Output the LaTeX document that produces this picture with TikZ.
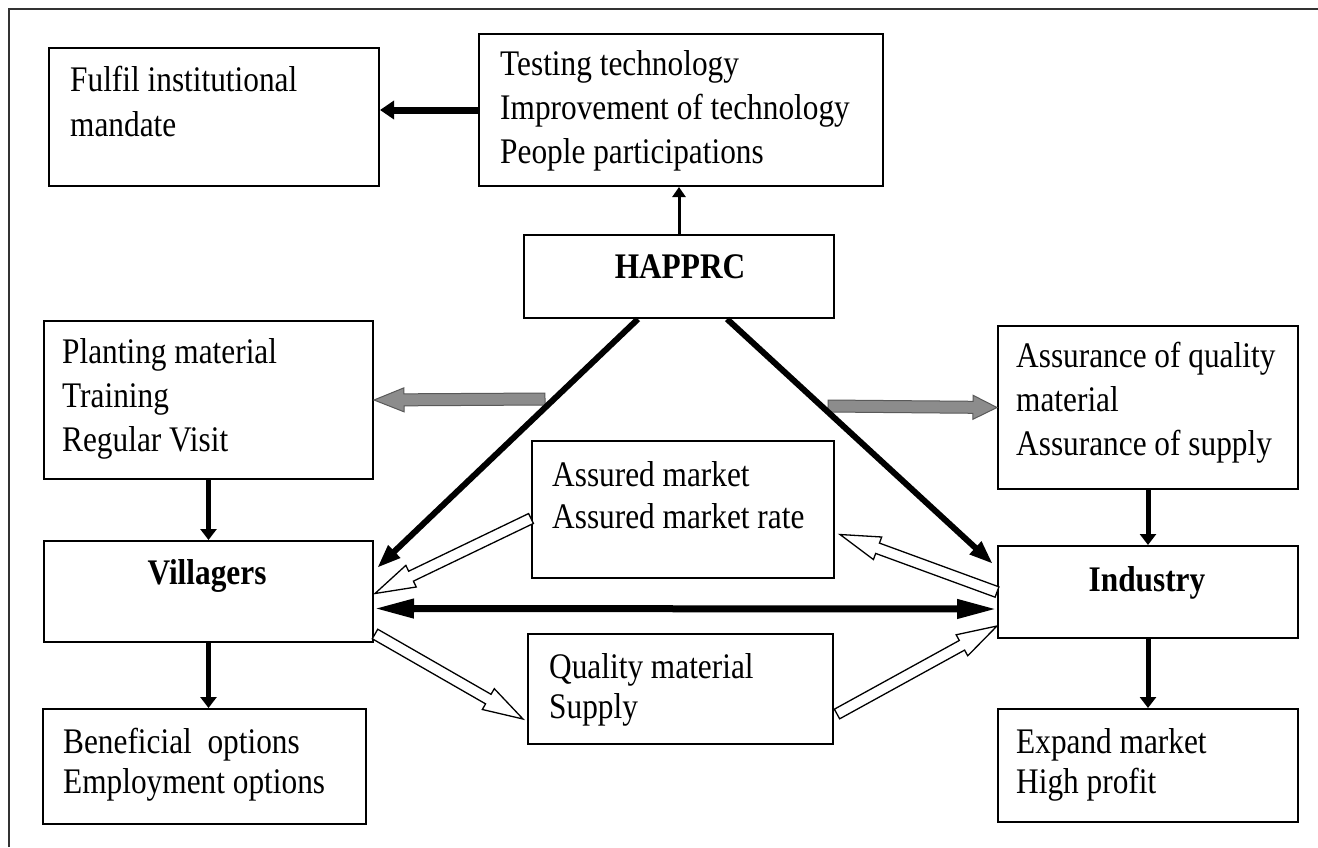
\documentclass[tikz,border=0pt]{standalone}
\usepackage{fontspec}
\setmainfont{Liberation Serif}[FakeStretch=0.87]
\usetikzlibrary{arrows.meta,calc}
\tikzset{
  box/.style={draw=black, line width=2pt, inner sep=0pt, anchor=north west, fill=white},
  txt/.style={inner sep=0pt, anchor=base west, align=left},
  btxt/.style={inner sep=0pt, anchor=base, font=\fontsize{36}{44}\selectfont\bfseries},
  vconn/.style={line width=5pt, -{Triangle[length=11pt,width=16pt]}},
  thinconn/.style={line width=3pt, -{Triangle[length=10pt,width=13pt]}},
  diagconn/.style={line width=6pt, -{Triangle[length=24pt,width=16pt]}},
  hconn/.style={line width=7pt, -{Triangle[length=14pt,width=18pt]}},
  dblconn/.style={line width=7pt, {Triangle[length=40pt,width=18pt]}-{Triangle[length=40pt,width=18pt]}},
  hollow/.style={fill=white, draw=black, line width=1.3pt, line join=miter},
  grayarr/.style={fill=black!45, draw=black!65, line width=1pt},
  frame/.style={draw=black!80, line width=2.5pt}
}
% block arrow: from, to, half shaft width, half head width, head length, style
\newcommand\blockarrow[6]{%
  \coordinate (bah) at ($(#2)!#5!(#1)$);
  \path[#6] ($(#1)!#3!90:(#2)$) -- ($(bah)!#3!90:(#2)$) -- ($(bah)!#4!90:(#2)$)
    -- (#2) -- ($(bah)!#4!-90:(#2)$) -- ($(bah)!#3!-90:(#2)$) -- ($(#1)!#3!-90:(#2)$) -- cycle;
}
\begin{document}
\begin{tikzpicture}[x=1pt, y=-1pt]
\useasboundingbox (0,0) rectangle (1318,847);
\fill[white] (0,0) rectangle (1318,847);
\draw[frame] (9,847) -- (9,9) -- (1318,9);

% boxes
\node[box, minimum width=330pt, minimum height=138pt] (fulfil) at (48,47) {};
\node[box, minimum width=404pt, minimum height=152pt] (test) at (478,33) {};
\node[box, minimum width=310pt, minimum height=83pt] (happrc) at (523,234) {};
\node[box, minimum width=329pt, minimum height=158pt] (plant) at (43,320) {};
\node[box, minimum width=300pt, minimum height=163pt] (assur) at (997,325) {};
\node[box, minimum width=302pt, minimum height=137pt] (assd) at (531,440) {};
\node[box, minimum width=329pt, minimum height=101pt] (vill) at (43,540) {};
\node[box, minimum width=300pt, minimum height=92pt] (ind) at (997,545) {};
\node[box, minimum width=305pt, minimum height=110pt] (qual) at (527,633) {};
\node[box, minimum width=323pt, minimum height=115pt] (benef) at (42,708) {};
\node[box, minimum width=300pt, minimum height=113pt] (expd) at (997,708) {};

% texts
\node[txt, font=\fontsize{36}{45}\selectfont] (fulfil-t) at (70,91)
  {\begin{tabular}[t]{@{}l@{}}Fulfil institutional\\mandate\end{tabular}};
\node[txt, font=\fontsize{36}{44}\selectfont] (test-t) at (500,75)
  {\begin{tabular}[t]{@{}l@{}}Testing technology\\Improvement of technology\\People participations\end{tabular}};
\node[btxt] (happrc-t) at (680,278) {HAPPRC};
\node[txt, font=\fontsize{36}{44}\selectfont] (plant-t) at (62,363)
  {\begin{tabular}[t]{@{}l@{}}Planting material\\Training\\Regular Visit\end{tabular}};
\node[txt, font=\fontsize{36}{44}\selectfont] (assur-t) at (1016,367)
  {\begin{tabular}[t]{@{}l@{}}Assurance of quality\\material\\Assurance of supply\end{tabular}};
\node[txt, font=\fontsize{36}{42}\selectfont] (assd-t) at (552,486)
  {\begin{tabular}[t]{@{}l@{}}Assured market\\Assured market rate\end{tabular}};
\node[btxt] (vill-t) at (207,584) {Villagers};
\node[btxt] (ind-t) at (1147,591) {Industry};
\node[txt, font=\fontsize{36}{40}\selectfont] (qual-t) at (549,678)
  {\begin{tabular}[t]{@{}l@{}}Quality material\\Supply\end{tabular}};
\node[txt, font=\fontsize{36}{40}\selectfont] (benef-t) at (63,753)
  {\begin{tabular}[t]{@{}l@{}}Beneficial\ \ options\\Employment options\end{tabular}};
\node[txt, font=\fontsize{36}{40}\selectfont] (expd-t) at (1016,753)
  {\begin{tabular}[t]{@{}l@{}}Expand market\\High profit\end{tabular}};

% straight connectors
\draw[hconn] (test.west) -- (test.west -| fulfil.east);
\draw[thinconn] (happrc.north) -- (happrc.north |- test.south);
\draw[vconn] (plant.south) -- (vill.north);
\draw[vconn] (vill.south) -- (vill.south |- benef.north);
\draw[vconn] (assur.south) -- (assur.south |- ind.north);
\draw[vconn] (ind.south) -- (ind.south |- expd.north);

% gray block arrows
\coordinate (gl) at (545,399);
\coordinate (gr) at (828,406);
\blockarrow{gl}{plant.east}{6pt}{12pt}{30pt}{grayarr}
\blockarrow{gr}{assur.west}{6pt}{12pt}{24pt}{grayarr}

% diagonal thick arrows
\coordinate (hsl) at ($(happrc.south west)+(115,0)$);
\coordinate (hsr) at ($(happrc.south west)+(204,0)$);
\coordinate (vtip) at ($(vill.north east)+(3,28)$);
\coordinate (itip) at ($(ind.north west)+(-4,19)$);
\draw[diagconn] (hsl) -- (vtip);
\draw[diagconn] (hsr) -- (itip);

% double arrow
\draw[dblconn] ($(vill.east)+(0,17)$) -- ($(ind.west)+(0,17)$);

% hollow block arrows
\coordinate (ha1) at ($(assd.west)+(0,9)$);
\coordinate (ha2) at ($(vill.east)+(1,2)$);
\coordinate (hb1) at (ind.west);
\coordinate (hb2) at ($(assd.east)+(5,25)$);
\coordinate (hc1) at ($(vill.south east)+(1,-9)$);
\coordinate (hc2) at ($(qual.west)+(-4,30)$);
\coordinate (hd1) at ($(qual.east)+(3,25)$);
\coordinate (hd2) at ($(ind.west)+(0,34)$);
\blockarrow{ha1}{ha2}{5.5pt}{12pt}{40pt}{hollow}
\blockarrow{hb1}{hb2}{5.5pt}{12pt}{40pt}{hollow}
\blockarrow{hc1}{hc2}{5.5pt}{12pt}{40pt}{hollow}
\blockarrow{hd1}{hd2}{5.5pt}{12pt}{40pt}{hollow}
\end{tikzpicture}
\end{document}
